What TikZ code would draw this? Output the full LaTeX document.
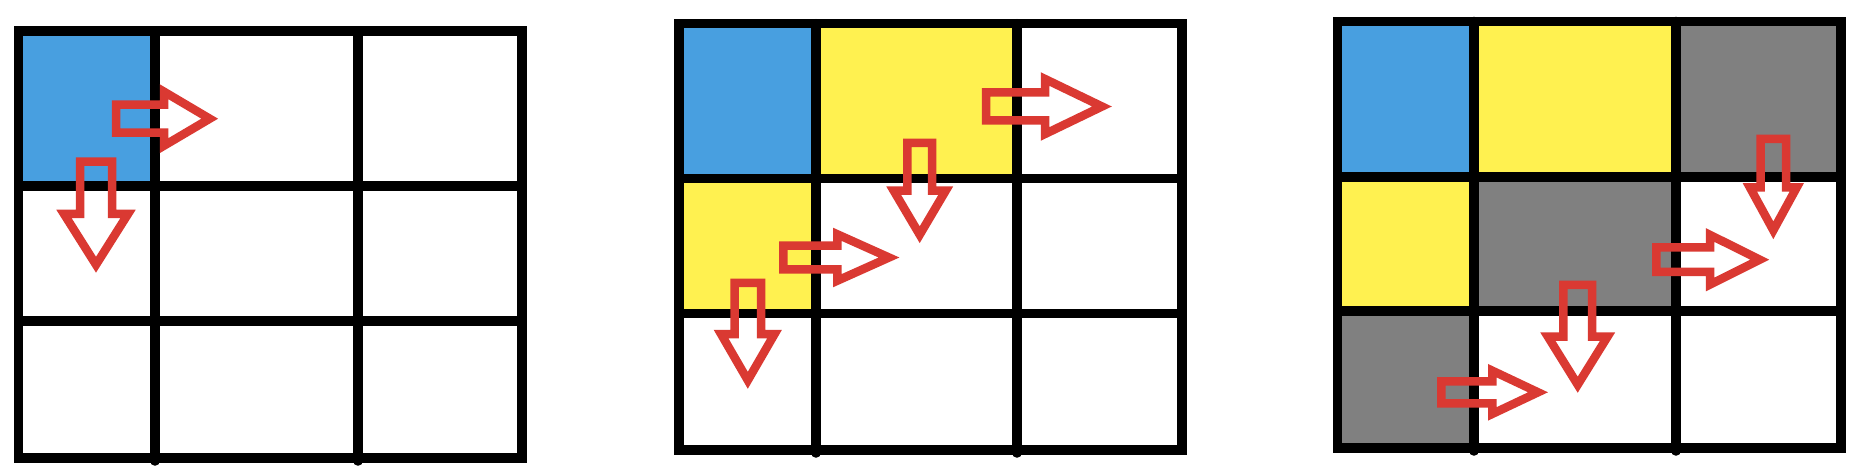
\documentclass[tikz,border=0pt]{standalone}
\usepackage{tikz}
\definecolor{cblue}{RGB}{72,159,224}
\definecolor{cyellow}{RGB}{255,241,80}
\definecolor{cgray}{RGB}{128,128,128}
\definecolor{cred}{RGB}{218,57,50}
\tikzset{
  gridline/.style={line width=9.5pt, draw=black},
  redarrow/.style={draw=cred, line width=8.5pt, line join=miter},
}
% right arrow: x0, yc, shaft half, head base x, head half, tip x
\newcommand{\RArrow}[6]{%
  \draw[redarrow] (#1,#2-#3) -- (#4,#2-#3) -- (#4,#2-#5) -- (#6,#2) -- (#4,#2+#5) -- (#4,#2+#3) -- (#1,#2+#3) -- cycle;}
% down arrow: xc, y0, shaft half, head base y, head half, tip y
\newcommand{\DArrow}[6]{%
  \draw[redarrow] (#1-#3,#2) -- (#1+#3,#2) -- (#1+#3,#4) -- (#1+#5,#4) -- (#1,#6) -- (#1-#5,#4) -- (#1-#3,#4) -- cycle;}
% grid: L, R, T, B, c1, c2, r1, r2
\newcommand{\GridBox}[8]{%
  \draw[gridline, line cap=round] (#5,#3) -- (#5,#4+3);
  \draw[gridline, line cap=round] (#6,#3) -- (#6,#4+3);
  \draw[gridline] (#1,#7) -- (#2,#7);
  \draw[gridline] (#1,#8) -- (#2,#8);
  \draw[gridline] (#1,#3) rectangle (#2,#4);}
\begin{document}
\begin{tikzpicture}[x=1pt, y=-1pt]
\useasboundingbox[fill=white] (0,0) rectangle (1860,470);
% ---- grid 1 ----
\fill[cblue] (18.7,31) rectangle (155,186);
\GridBox{18.7}{522}{31}{458}{155}{358}{186}{321}
\RArrow{116}{118.7}{14}{164}{27}{209.7}
\DArrow{96}{161.7}{16}{214}{32}{264.7}
% ---- grid 2 ----
\fill[cblue] (679,23.7) rectangle (816,178.5);
\fill[cyellow] (816,23.7) rectangle (1017,178.5);
\fill[cyellow] (679,178.5) rectangle (816,313.7);
\GridBox{679}{1182}{23.7}{450}{816}{1017}{178.5}{313.7}
\RArrow{986.2}{106.5}{14}{1045}{27.5}{1102}
\DArrow{919.7}{143}{12.3}{190.7}{26}{234.7}
\RArrow{783.3}{257.5}{11.8}{837.3}{23.2}{889}
\DArrow{747.8}{283}{13.2}{334}{26.8}{380.3}
% ---- grid 3 ----
\fill[cblue] (1337.5,21.5) rectangle (1474,177);
\fill[cyellow] (1474,21.5) rectangle (1676,177);
\fill[cgray] (1676,21.5) rectangle (1841,177);
\fill[cyellow] (1337.5,177) rectangle (1474,311);
\fill[cgray] (1474,177) rectangle (1676,311);
\fill[cgray] (1337.5,311) rectangle (1474,448);
\GridBox{1337.5}{1841}{21.5}{448}{1474}{1676}{177}{311}
\DArrow{1773.3}{139}{12.7}{187.3}{23.5}{230.3}
\RArrow{1656.3}{259.7}{12.3}{1710}{24.8}{1759.7}
\DArrow{1577.7}{285}{14.3}{336.7}{29.8}{384.7}
\RArrow{1441.3}{392.3}{11}{1492.3}{21.6}{1538}
\end{tikzpicture}
\end{document}
